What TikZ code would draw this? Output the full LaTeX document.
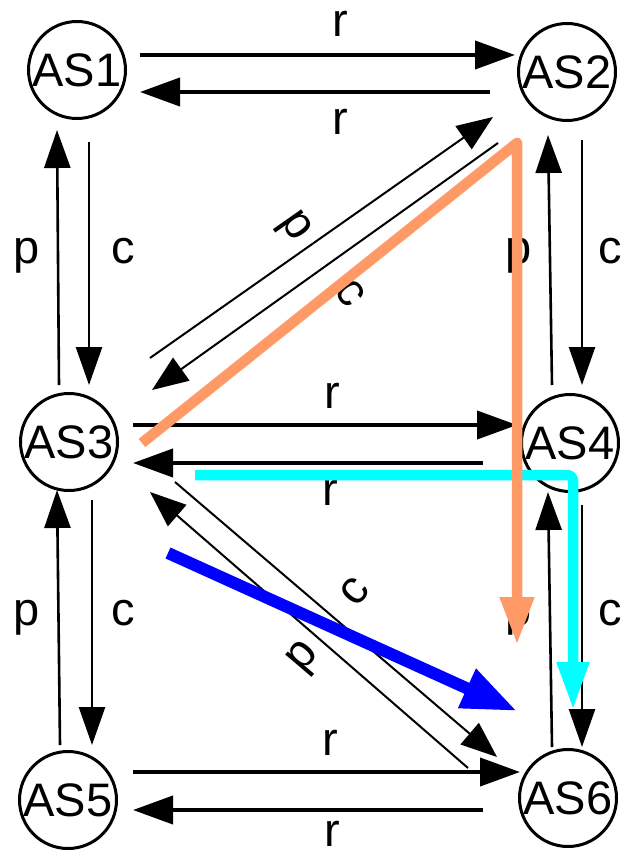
\documentclass[tikz,border=0pt]{standalone}
\usepackage{fontspec}
\setmainfont{Liberation Sans}
\usetikzlibrary{arrows.meta,calc}
\definecolor{orangepath}{HTML}{FF9966}
\definecolor{cyanpath}{HTML}{00FFFF}
\definecolor{bluepath}{HTML}{0000FF}
\begin{document}
\begin{tikzpicture}[x=1pt,y=-1pt,
  asnode/.style={circle,draw=black,line width=3pt,minimum size=97pt,inner sep=0pt,fill=white,font=\fontsize{47}{50}\selectfont},
  lbl/.style={anchor=base,inner sep=0pt,font=\fontsize{47}{50}\selectfont},
  rlbl/.style={inner sep=0pt,font=\fontsize{47}{50}\selectfont},
  harrow/.style={line width=4pt,-{Triangle[length=40pt,width=28pt]}},
  varrow/.style={line width=2.6pt,-{Triangle[length=38pt,width=26pt]}},
  darrow/.style={line width=2pt,-{Triangle[length=36pt,width=28pt]}},
  pathline/.style={line width=10.5pt,line join=round}
]
\useasboundingbox (0,0) rectangle (624,853);
\fill[white] (0,0) rectangle (624,853);
% nodes
\node[asnode] (AS1) at (77,70) {AS1};
\node[asnode] (AS2) at (567,72) {AS2};
\node[asnode] (AS3) at (69,442) {AS3};
\node[asnode] (AS4) at (570,443) {AS4};
\node[asnode] (AS5) at (68,800) {AS5};
\node[asnode] (AS6) at (568,798) {AS6};
% horizontal r arrows
\draw[harrow] ($(AS1)+(63,-15)$) -- ($(AS2)+(-52,-17)$);
\draw[harrow] ($(AS2)+(-77,20)$) -- ($(AS1)+(63,22)$);
\draw[harrow] ($(AS3)+(64,-17)$) -- ($(AS4)+(-53,-18)$);
\draw[harrow] ($(AS4)+(-87,20)$) -- ($(AS3)+(64,21)$);
\draw[harrow] ($(AS5)+(65,-28)$) -- ($(AS6)+(-48,-26)$);
\draw[harrow] ($(AS6)+(-85,12)$) -- ($(AS5)+(65,10)$);
% vertical p / c arrows
\draw[varrow] ($(AS3)+(-10,-57)$) -- ($(AS1)+(-20,60)$);
\draw[varrow] ($(AS1)+(12,72)$) -- ($(AS3)+(20,-57)$);
\draw[varrow] ($(AS4)+(-18,-58)$) -- ($(AS2)+(-19,63)$);
\draw[varrow] ($(AS2)+(15,68)$) -- ($(AS4)+(12,-58)$);
\draw[varrow] ($(AS5)+(-8,-55)$) -- ($(AS3)+(-12,48)$);
\draw[varrow] ($(AS3)+(23,58)$) -- ($(AS5)+(24,-55)$);
\draw[varrow] ($(AS6)+(-16,-51)$) -- ($(AS4)+(-22,49)$);
\draw[varrow] ($(AS4)+(12,62)$) -- ($(AS6)+(14,-51)$);
% diagonal arrows
\draw[darrow] ($(AS3)+(81,-84)$) -- ($(AS2)+(-74,45)$);
\draw[darrow] ($(AS2)+(-69,71)$) -- ($(AS3)+(83,-52)$);
\draw[darrow] ($(AS3)+(106,40)$) -- ($(AS6)+(-71,-41)$);
\draw[darrow] ($(AS6)+(-100,-30)$) -- ($(AS3)+(81,50)$);
% labels
\node[lbl] (l1) at (340,37) {r};
\node[lbl] (l2) at (340,135) {r};
\node[lbl] (l3) at (27,263) {p};
\node[lbl] (l4) at (123,263) {c};
\node[lbl] (l5) at (519,263) {p};
\node[lbl] (l6) at (610,263) {c};
\node[lbl] (l7) at (332,408) {r};
\node[lbl] (l8) at (330,505) {r};
\node[lbl] (l9) at (27,625) {p};
\node[lbl] (l10) at (123,625) {c};
\node[lbl] (l11) at (519,625) {p};
\node[lbl] (l12) at (610,625) {c};
\node[lbl] (l13) at (330,755) {r};
\node[lbl] (l14) at (332,846) {r};
\node[rlbl,rotate=-55] (l15) at (293,228) {p};
\node[rlbl,rotate=-55] (l16) at (350,293) {c};
\node[rlbl,rotate=49.5] (l17) at (355,591) {c};
\node[rlbl,rotate=49.5] (l18) at (305,659) {p};
% coloured paths
\draw[pathline,draw=cyanpath,rounded corners=6pt,-{Triangle[length=48pt,width=30pt]}]
  ($(AS3)+(126,33)$) -- ($(AS4)+(3,32)$) -- ($(AS6)+(5,-88)$);
\draw[pathline,draw=orangepath,-{Triangle[length=48pt,width=32pt]}]
  ($(AS3)+(73,1)$) -- ($(AS2)+(-50,71)$) -- ($(AS6)+(-51,-153)$);
\draw[line width=12pt,draw=bluepath,-{Triangle[length=55pt,width=40pt]}]
  ($(AS3)+(99,111)$) -- ($(AS6)+(-51,-87)$);
\end{tikzpicture}
\end{document}
